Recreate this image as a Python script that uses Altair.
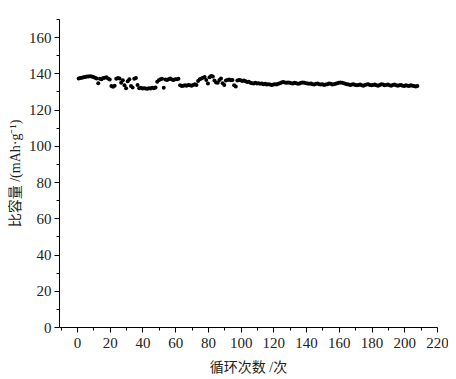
import altair as alt
import pandas as pd

cycles = list(range(1, 209))
capacity = [
    137.2, 137.4, 137.6, 137.8, 138.0, 138.2, 138.3, 138.4, 138.2, 138.0,
    137.6, 137.2, 134.5, 137.0, 136.8, 137.4, 137.6, 137.8, 137.2, 136.6,
    133.0, 132.6, 133.2, 137.0, 137.4, 137.2, 134.8, 136.2, 133.4, 131.8,
    135.6, 136.8, 133.0, 132.2, 137.0, 137.4, 133.6, 131.8, 132.0, 131.6,
    131.8, 131.6, 131.5, 131.8, 131.6, 132.0, 131.8, 132.2, 135.4, 136.2,
    136.8, 137.0, 132.0, 136.6, 136.4, 136.8, 137.2, 136.6, 136.4, 136.8,
    136.8, 137.0, 133.4, 133.0, 133.2, 133.4, 133.2, 133.6, 133.4, 133.2,
    133.6, 134.0, 133.6, 135.8, 136.8, 137.2, 137.6, 138.0, 136.4, 134.4,
    137.8, 138.6, 138.2, 136.0, 135.0, 134.8, 136.4, 137.2, 134.6, 133.6,
    136.0, 136.4, 136.6, 136.2, 136.4, 133.4, 132.8, 136.0, 136.4, 136.2,
    135.8, 136.0, 135.6, 135.2, 135.4, 134.8, 134.6, 134.4, 134.8, 134.4,
    134.6, 134.2, 134.4, 134.0, 134.2, 133.8, 134.0, 133.8, 133.6, 133.8,
    134.0, 133.8, 134.2, 134.6, 135.0, 135.2, 135.0, 134.8, 135.0, 134.8,
    134.6, 134.4, 134.8, 134.6, 134.2, 134.4, 134.8, 135.0, 134.8, 134.6,
    134.4, 134.2, 134.4, 134.0, 133.8, 134.2, 134.4, 134.0, 133.8, 134.0,
    133.6, 133.8, 134.0, 134.4, 134.2, 133.8, 134.0, 134.2, 134.6, 134.8,
    135.0, 134.8, 134.6, 134.2, 134.0, 133.8, 133.6, 133.8, 134.0, 133.6,
    133.4, 133.6, 133.8, 133.4, 133.2, 133.6, 133.8, 134.0, 133.6, 133.4,
    133.6, 133.8, 133.4, 133.2, 133.6, 134.0, 133.8, 133.4, 133.6, 133.8,
    133.4, 133.2, 133.6, 133.8, 133.4, 133.2, 133.4, 133.6, 133.2, 133.0,
    133.4, 133.2, 133.0, 133.4, 133.2, 133.0, 132.8, 133.0,
]

x_ticks = list(range(-10, 221, 10))
y_ticks = list(range(0, 171, 10))

df = pd.DataFrame({"cycle": cycles, "cap": capacity})

FONT = "Liberation Serif, Noto Sans CJK SC"

minor_size = {"condition": {"test": "datum.value % 20 != 0", "value": 3}, "value": 5}

chart = (
    alt.Chart(df)
    .mark_circle(size=16, color="black", opacity=1)
    .encode(
        x=alt.X(
            "cycle:Q",
            scale=alt.Scale(domain=[-11, 220], nice=False, zero=False),
            axis=alt.Axis(
                title="循环次数 /次",
                values=x_ticks,
                labelExpr="datum.value % 20 == 0 && datum.value >= 0 ? datum.label : ''",
                tickSize=minor_size,
                labelOverlap=False,
                labelFlush=False,
                grid=False,
                titlePadding=10,
            ),
        ),
        y=alt.Y(
            "cap:Q",
            scale=alt.Scale(domain=[0, 170], nice=False),
            axis=alt.Axis(
                title="比容量 /(mAh·g⁻¹)",
                values=y_ticks,
                labelExpr="datum.value % 20 == 0 && datum.value <= 160 ? datum.label : ''",
                tickSize=minor_size,
                labelOverlap=False,
                labelFlush=False,
                grid=False,
                titlePadding=6,
            ),
        ),
    )
    .properties(
        width=378,
        height=308,
        autosize=alt.AutoSizeParams(type="none"),
        padding={"left": 51, "top": 11, "right": 11, "bottom": 51},
    )
    .configure_view(stroke=None)
    .configure_axis(
        domainColor="black",
        tickColor="black",
        domainWidth=1,
        tickWidth=1,
        labelFont=FONT,
        titleFont=FONT,
        labelFontSize=15,
        titleFontSize=14,
        titleFontWeight="normal",
        labelColor="#222222",
        titleColor="#222222",
        labelPadding=3,
    )
)

chart.save("out.html", embed_options={"renderer": "svg", "actions": False})
